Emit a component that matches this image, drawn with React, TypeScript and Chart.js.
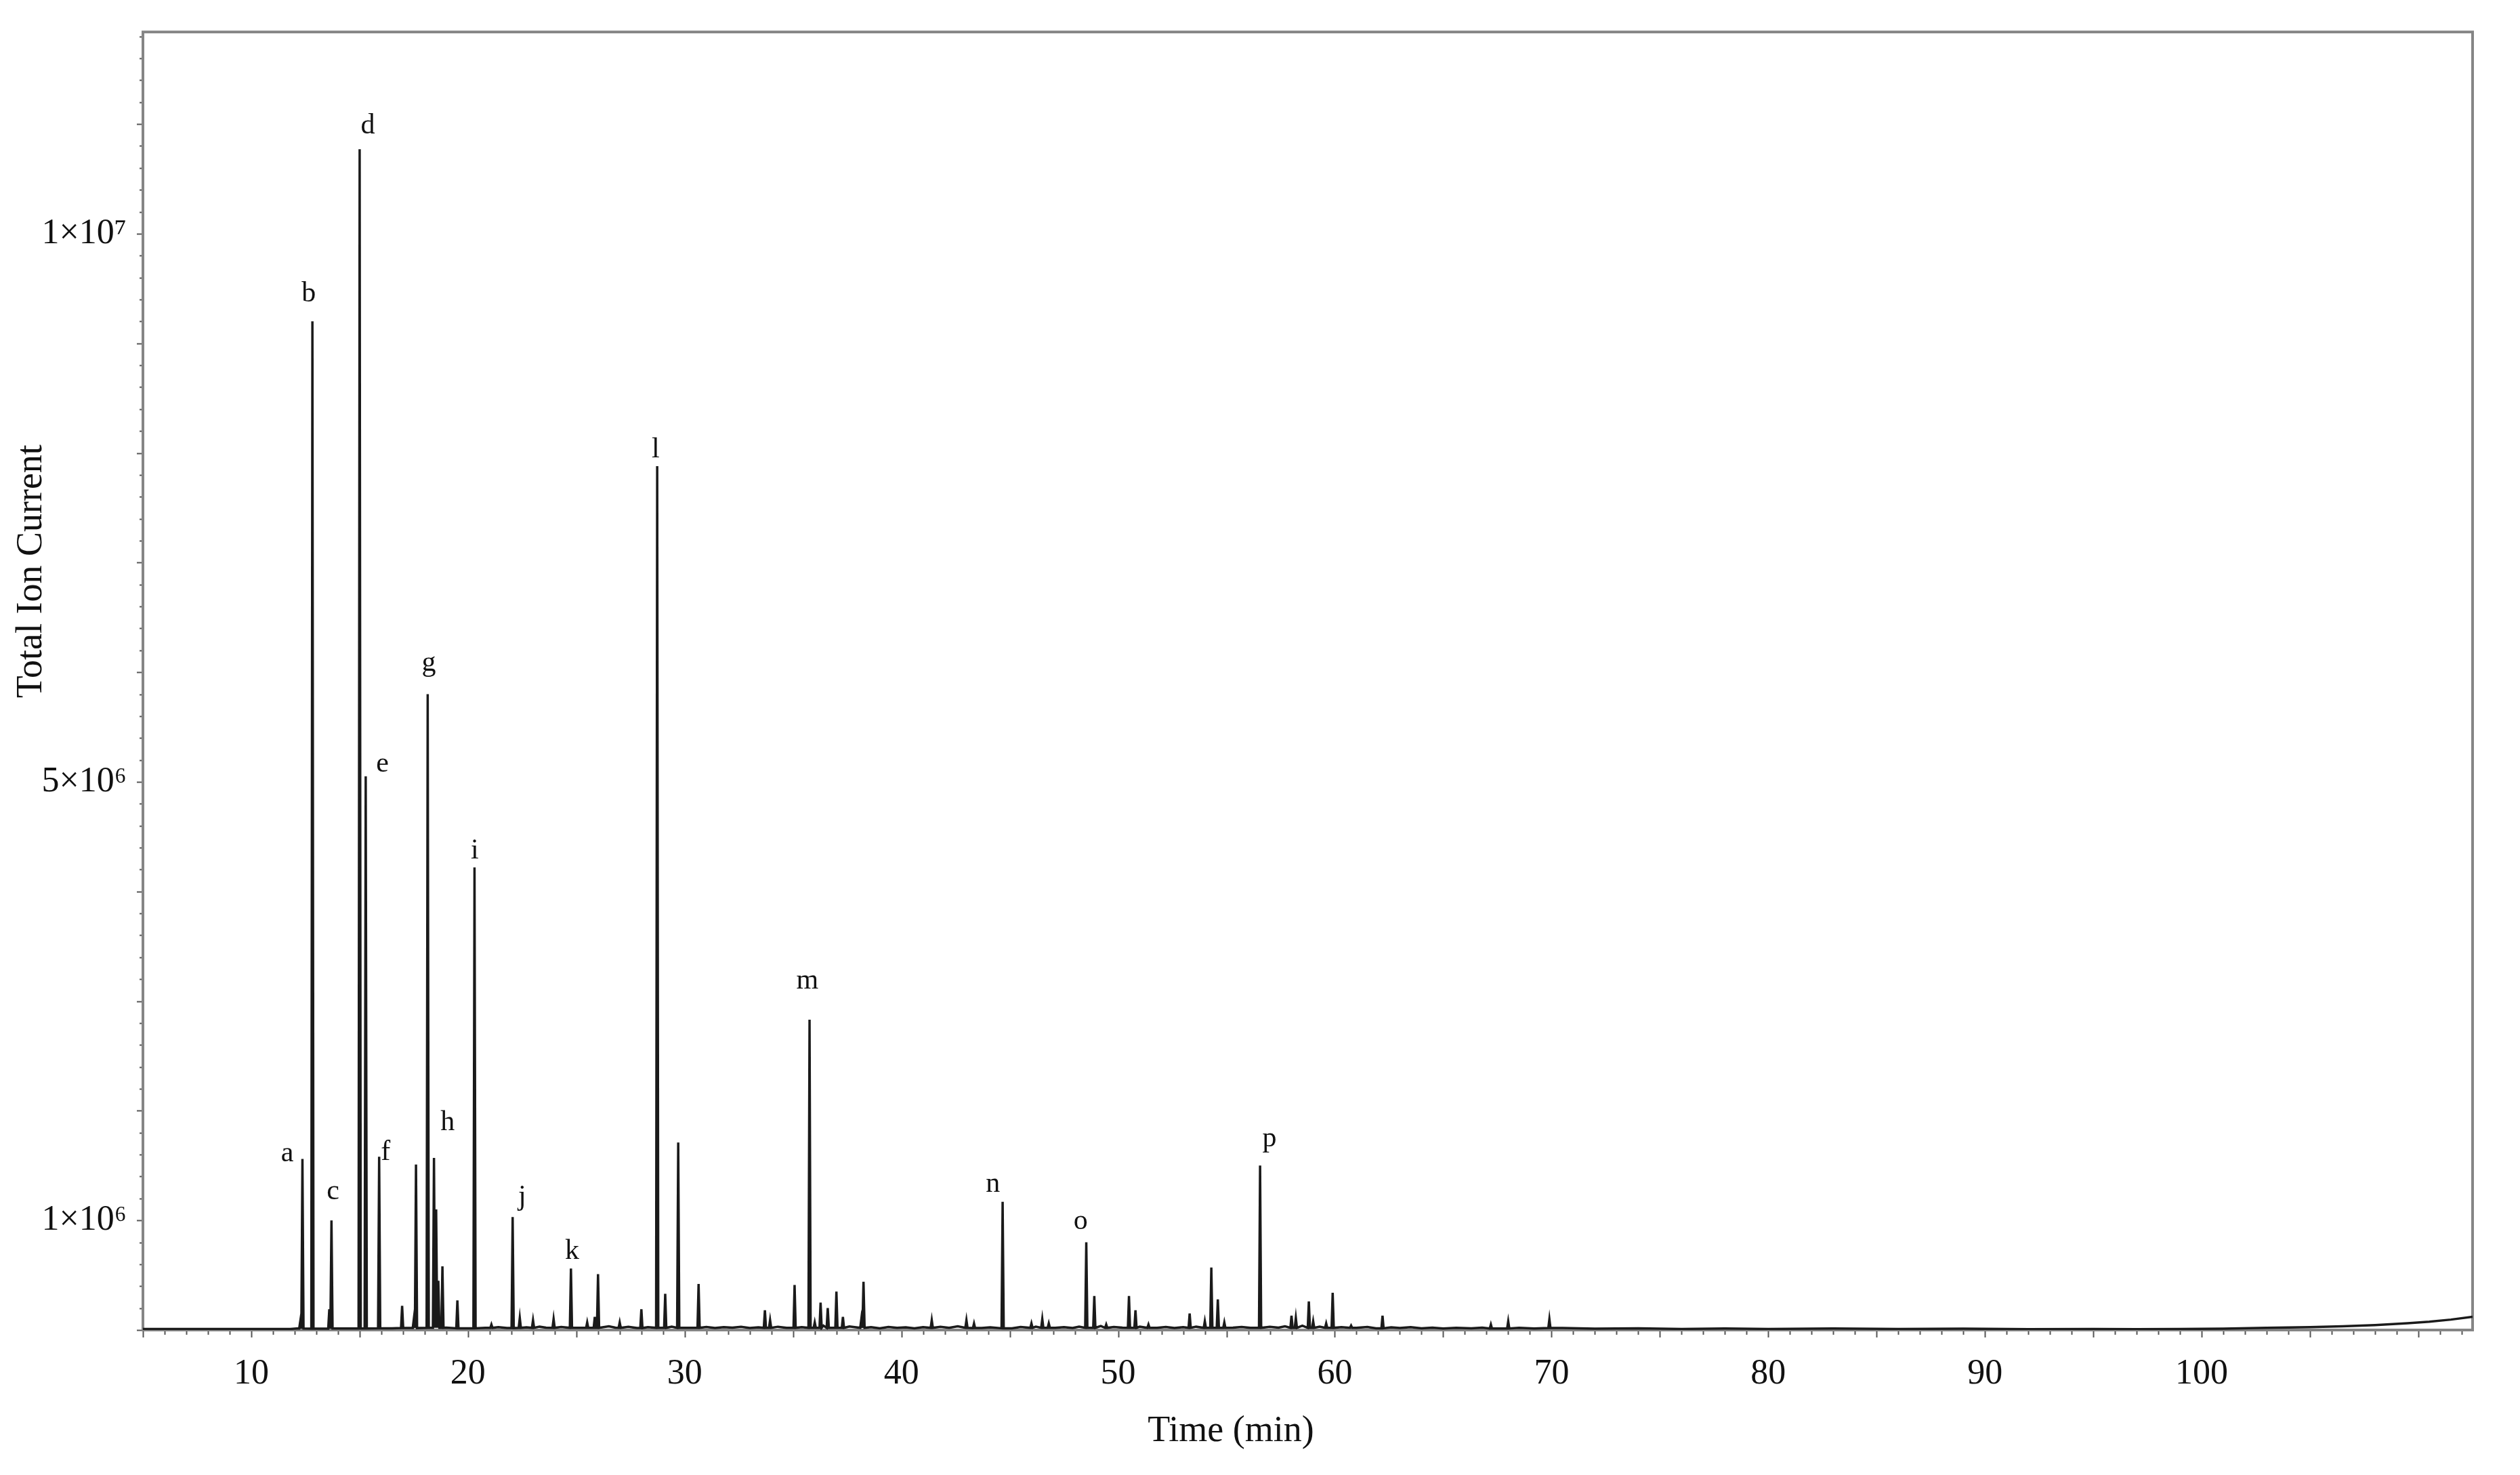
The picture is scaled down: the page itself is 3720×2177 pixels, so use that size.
import React, { useEffect, useRef } from 'react';
import { Chart, registerables } from 'chart.js';

Chart.register(...registerables);

// ---- data ----
const baseTimes = [5, 11.8, 12.1, 13.0, 14.2, 16.5, 17.2, 19.0, 19.9, 20.8, 21.4, 21.8, 22.7, 23.3, 23.6, 24.3, 25.2, 26.5, 26.8, 27.4, 27.8, 28.3, 29.4, 30.2, 31.0, 31.4, 31.8, 32.2, 32.6, 33.0, 33.4, 34.3, 34.7, 35.4, 36.4, 37.6, 38.6, 39.0, 39.4, 39.8, 40.2, 40.6, 41.0, 41.8, 42.2, 42.6, 43.7, 44.1, 45.1, 45.5, 46.2, 47.1, 47.5, 47.9, 48.2, 49.2, 49.8, 50.2, 51.0, 51.8, 52.2, 52.6, 53.0, 53.6, 55.3, 55.7, 56.1, 57.0, 57.4, 57.7, 58.5, 59.3, 60.3, 61.0, 61.5, 61.9, 62.6, 63.0, 63.5, 64.0, 64.5, 65.0, 65.6, 66.3, 66.8, 67.6, 68.5, 69.2, 70.5, 72, 74, 76, 78, 80, 83, 86, 89, 92, 95, 97, 99, 101, 103, 105, 106.5, 108, 109.5, 110.5, 111.5, 112.5];
const baseValues = [10000, 10000, 14000, 12000, 14000, 15000, 18000, 22000, 16000, 20000, 26000, 18000, 24000, 30000, 22000, 28000, 20000, 34000, 22000, 30000, 18000, 26000, 30000, 20000, 28000, 18000, 26000, 22000, 30000, 18000, 24000, 30000, 20000, 26000, 40000, 32000, 26000, 16000, 28000, 20000, 24000, 16000, 26000, 30000, 20000, 34000, 18000, 24000, 16000, 28000, 30000, 20000, 26000, 18000, 30000, 36000, 28000, 22000, 30000, 20000, 28000, 18000, 26000, 30000, 22000, 28000, 20000, 30000, 22000, 34000, 40000, 30000, 26000, 20000, 28000, 16000, 24000, 18000, 26000, 16000, 22000, 14000, 20000, 16000, 22000, 14000, 20000, 14000, 18000, 12000, 16000, 10000, 14000, 10000, 14000, 10000, 12000, 8000, 10000, 8000, 10000, 12000, 20000, 26000, 34000, 45000, 62000, 76000, 95000, 120000];

const peakTimes = [12.26, 12.36, 12.82, 13.6, 13.7, 15.0, 15.28, 15.9, 16.96, 17.5, 17.6, 18.14, 18.43, 18.53, 18.63, 18.82, 19.51, 20.3, 21.08, 22.06, 22.39, 23.0, 23.95, 24.75, 25.5, 25.85, 26.0, 27.0, 28.0, 28.73, 29.1, 29.7, 30.64, 33.7, 33.94, 35.07, 35.76, 36.0, 36.27, 36.6, 37.0, 37.3, 38.15, 38.25, 41.4, 43.0, 43.35, 44.67, 46.0, 46.5, 46.8, 48.53, 48.9, 49.45, 50.5, 50.8, 51.4, 53.3, 54.0, 54.3, 54.6, 54.9, 56.55, 58.0, 58.2, 58.8, 59.0, 59.6, 59.9, 60.75, 62.2, 67.2, 68.0, 69.9];
const peakHeights = [80000, 1560000, 9200000, 190000, 1000000, 10770000, 5050000, 1580000, 220000, 100000, 1510000, 5800000, 1570000, 1100000, 450000, 580000, 270000, 4220000, 50000, 1030000, 110000, 90000, 100000, 560000, 70000, 120000, 510000, 70000, 190000, 7880000, 330000, 1710000, 420000, 180000, 90000, 410000, 2830000, 70000, 250000, 200000, 350000, 120000, 100000, 440000, 90000, 90000, 60000, 1170000, 60000, 100000, 60000, 800000, 310000, 50000, 310000, 180000, 50000, 150000, 80000, 570000, 280000, 70000, 1500000, 130000, 110000, 260000, 80000, 60000, 340000, 40000, 130000, 50000, 80000, 100000];

const labelLetters = ['a', 'b', 'c', 'd', 'e', 'f', 'g', 'h', 'i', 'j', 'k', 'l', 'm', 'n', 'o', 'p'];
const labelTimes = [11.66, 12.65, 13.77, 15.38, 16.05, 16.2, 18.19, 19.06, 20.31, 22.5, 24.8, 28.66, 35.66, 44.22, 48.27, 56.98];
const labelValues = [1610000, 9450000, 1260000, 10980000, 5160000, 1620000, 6080000, 1890000, 4370000, 1210000, 720000, 8030000, 3180000, 1330000, 990000, 1740000];

const xTickValues = [10, 20, 30, 40, 50, 60, 70, 80, 90, 100];
const xTickLabels = ['10', '20', '30', '40', '50', '60', '70', '80', '90', '100'];
const yTickValues = [1000000, 5000000, 10000000];
const yTickLabels = ['1×10⁶', '5×10⁶', '1×10⁷'];
const xAxisTitle = 'Time (min)';
const yAxisTitle = 'Total Ion Current';

const X_MIN = 5;
const X_MAX = 112.5;
const Y_MIN = 0;
const Y_MAX = 11840000;

// ---- styling constants ----
const FONT = "'Liberation Serif', 'Times New Roman', serif";
const PEAK_HALF_WIDTH = 0.05;
const FRAME_COLOR = '#858585';
const TICK_COLOR = '#555555';
const LINE_COLOR = '#1a1a1a';

function nearestBase(t: number): number {
  let best = 0;
  let bestD = Infinity;
  baseTimes.forEach((bt, i) => {
    const d = Math.abs(bt - t);
    if (d < bestD) {
      bestD = d;
      best = baseValues[i];
    }
  });
  return Math.min(best, 20000);
}

function buildTrace() {
  const pts: { x: number; y: number }[] = [];
  baseTimes.forEach((t, i) => {
    if (peakTimes.some((p) => Math.abs(p - t) < PEAK_HALF_WIDTH * 1.5)) return;
    pts.push({ x: t, y: baseValues[i] });
  });
  peakTimes.forEach((t, i) => {
    const foot = nearestBase(t);
    pts.push({ x: t - PEAK_HALF_WIDTH, y: foot });
    pts.push({ x: t, y: peakHeights[i] });
    pts.push({ x: t + PEAK_HALF_WIDTH, y: foot });
  });
  pts.sort((a, b) => a.x - b.x);
  return pts;
}

const decorPlugin = {
  id: 'decor',
  beforeDatasetsDraw(chart: any) {
    const { ctx, chartArea } = chart;
    const xs = chart.scales.x;
    const ys = chart.scales.y;
    ctx.save();
    ctx.strokeStyle = TICK_COLOR;
    ctx.lineWidth = 2;
    for (let v = Math.ceil(X_MIN); v <= X_MAX; v += 1) {
      const px = Math.round(xs.getPixelForValue(v)) + 0.5;
      const len = v % 5 === 0 ? 11 : 7;
      ctx.beginPath();
      ctx.moveTo(px, chartArea.bottom);
      ctx.lineTo(px, chartArea.bottom + len);
      ctx.stroke();
    }
    for (let k = 0; k * 200000 <= Y_MAX; k += 1) {
      const v = k * 200000;
      const py = Math.round(ys.getPixelForValue(v)) + 0.5;
      const len = k % 5 === 0 ? 9 : 5;
      ctx.beginPath();
      ctx.moveTo(chartArea.left, py);
      ctx.lineTo(chartArea.left - len, py);
      ctx.stroke();
    }
    ctx.strokeStyle = FRAME_COLOR;
    ctx.lineWidth = 4;
    ctx.strokeRect(chartArea.left, chartArea.top, chartArea.right - chartArea.left, chartArea.bottom - chartArea.top);
    ctx.restore();
  },
  afterDatasetsDraw(chart: any) {
    const { ctx, chartArea } = chart;
    const xs = chart.scales.x;
    const ys = chart.scales.y;
    ctx.save();
    ctx.fillStyle = '#111111';
    ctx.textAlign = 'center';
    ctx.textBaseline = 'middle';
    ctx.font = `42px ${FONT}`;
    labelLetters.forEach((l, i) => {
      ctx.fillText(l, xs.getPixelForValue(labelTimes[i]), ys.getPixelForValue(labelValues[i]));
    });
    ctx.font = `54px ${FONT}`;
    const w = chartArea.right - chartArea.left;
    const h = chartArea.bottom - chartArea.top;
    ctx.fillText(xAxisTitle, chartArea.left + w * 0.467, chartArea.bottom + 150);
    ctx.translate(chartArea.left - 164, chartArea.top + h * 0.4155);
    ctx.rotate(-Math.PI / 2);
    ctx.fillText(yAxisTitle, 0, 0);
    ctx.restore();
  },
};

export default function App() {
  const ref = useRef<HTMLCanvasElement | null>(null);
  useEffect(() => {
    if (!ref.current) return;
    const chart = new Chart(ref.current, {
      type: 'line',
      data: {
        datasets: [
          {
            data: buildTrace(),
            borderColor: LINE_COLOR,
            borderWidth: 3.5,
            pointRadius: 0,
            tension: 0,
            fill: false,
          },
        ],
      },
      options: {
        animation: false,
        responsive: false,
        parsing: false as any,
        normalized: true,
        layout: { padding: { top: 40, right: 70, left: 0, bottom: 0 } },
        plugins: { legend: { display: false }, tooltip: { enabled: false } },
        scales: {
          x: {
            type: 'linear',
            min: X_MIN,
            max: X_MAX,
            grid: { display: false },
            border: { display: false },
            afterBuildTicks: (axis: any) => {
              axis.ticks = xTickValues.map((value) => ({ value }));
            },
            afterFit: (scale: any) => {
              scale.height = 214;
            },
            ticks: {
              autoSkip: false,
              maxRotation: 0,
              padding: 26,
              color: '#111111',
              font: { family: FONT, size: 52 },
              callback: (_v: any, index: number) => xTickLabels[index],
            },
          },
          y: {
            type: 'linear',
            min: Y_MIN,
            max: Y_MAX,
            grid: { display: false },
            border: { display: false },
            afterBuildTicks: (axis: any) => {
              axis.ticks = yTickValues.map((value) => ({ value }));
            },
            afterFit: (scale: any) => {
              scale.width = 211;
            },
            ticks: {
              autoSkip: false,
              padding: 16,
              color: '#111111',
              font: { family: FONT, size: 52 },
              callback: (_v: any, index: number) => yTickLabels[index],
            },
          },
        },
      },
      plugins: [decorPlugin],
    });
    return () => chart.destroy();
  }, []);
  return (
    <div style={{ position: 'fixed', left: 0, top: 0, width: 3720, height: 2177, background: '#ffffff' }}>
      <canvas ref={ref} width={3720} height={2177} style={{ display: 'block' }} />
    </div>
  );
}
